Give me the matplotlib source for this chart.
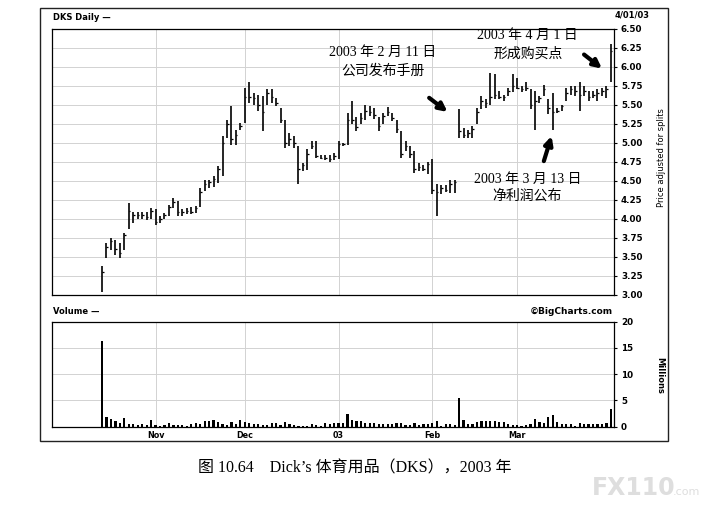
import matplotlib
matplotlib.use('Agg')
import matplotlib.pyplot as plt
from matplotlib.patches import Rectangle
import pandas as pd

# trading days, Oct 16 2002 (IPO) .. Apr 1 2003
holidays = ['2002-11-28', '2002-12-25', '2003-01-01', '2003-01-20', '2003-02-17']
days = pd.bdate_range('2002-10-16', '2003-04-01')
days = days[~days.isin(pd.to_datetime(holidays))]

high = [3.38, 3.68, 3.75, 3.72, 3.68, 3.81, 4.20, 4.09, 4.08, 4.08, 4.09, 4.14,
        4.12, 4.03, 4.07, 4.18, 4.27, 4.23, 4.12, 4.14, 4.15, 4.16, 4.40, 4.51,
        4.51, 4.56, 4.69, 5.08, 5.30, 5.48, 5.17, 5.26, 5.72, 5.80, 5.65, 5.63,
        5.61, 5.70, 5.70, 5.59, 5.46, 5.30, 5.13, 5.08, 4.95, 4.73, 4.91, 5.02,
        5.02, 4.84, 4.84, 4.83, 4.86, 5.02, 5.00, 5.39, 5.55, 5.33, 5.39, 5.50,
        5.48, 5.46, 5.33, 5.39, 5.47, 5.39, 5.30, 5.15, 5.02, 4.95, 4.89, 4.73,
        4.71, 4.75, 4.78, 4.45, 4.44, 4.44, 4.51, 4.51, 5.44, 5.19, 5.17, 5.22,
        5.46, 5.61, 5.57, 5.92, 5.90, 5.68, 5.63, 5.72, 5.90, 5.85, 5.74, 5.79,
        5.70, 5.68, 5.61, 5.76, 5.57, 5.65, 5.46, 5.50, 5.72, 5.74, 5.74, 5.79,
        5.74, 5.68, 5.68, 5.70, 5.72, 5.74, 6.29]
low = [3.03, 3.48, 3.58, 3.52, 3.48, 3.59, 3.86, 3.94, 3.99, 3.99, 3.98, 4.00,
       3.91, 3.94, 3.99, 4.03, 4.14, 4.03, 4.03, 4.06, 4.06, 4.07, 4.15, 4.36,
       4.40, 4.42, 4.47, 4.56, 5.06, 4.97, 4.97, 5.17, 5.26, 5.52, 5.50, 5.41,
       5.15, 5.50, 5.52, 5.48, 5.26, 4.93, 4.95, 4.93, 4.45, 4.62, 4.64, 4.91,
       4.80, 4.78, 4.77, 4.75, 4.77, 4.78, 4.95, 4.97, 5.25, 5.15, 5.24, 5.30,
       5.35, 5.31, 5.15, 5.24, 5.35, 5.28, 5.13, 4.80, 4.89, 4.80, 4.60, 4.62,
       4.62, 4.58, 4.32, 4.03, 4.32, 4.35, 4.34, 4.34, 5.06, 5.06, 5.06, 5.06,
       5.24, 5.44, 5.46, 5.50, 5.57, 5.57, 5.55, 5.61, 5.66, 5.70, 5.66, 5.68,
       5.44, 5.17, 5.52, 5.61, 5.37, 5.17, 5.39, 5.41, 5.55, 5.63, 5.61, 5.41,
       5.61, 5.55, 5.59, 5.55, 5.61, 5.59, 5.79]
close = [3.30, 3.62, 3.70, 3.60, 3.55, 3.78, 4.10, 4.05, 4.04, 4.05, 4.02, 4.10,
         3.95, 3.99, 4.05, 4.15, 4.22, 4.08, 4.08, 4.10, 4.08, 4.14, 4.35, 4.45,
         4.48, 4.52, 4.65, 5.00, 5.25, 5.05, 5.10, 5.22, 5.60, 5.60, 5.58, 5.50,
         5.40, 5.65, 5.60, 5.52, 5.30, 5.00, 5.05, 5.00, 4.65, 4.70, 4.85, 4.95,
         4.82, 4.80, 4.80, 4.78, 4.82, 4.98, 4.98, 5.30, 5.30, 5.20, 5.32, 5.42,
         5.40, 5.36, 5.22, 5.35, 5.40, 5.32, 5.18, 4.85, 4.95, 4.85, 4.65, 4.68,
         4.65, 4.72, 4.38, 4.35, 4.40, 4.38, 4.45, 4.48, 5.15, 5.10, 5.12, 5.18,
         5.40, 5.55, 5.52, 5.60, 5.62, 5.60, 5.60, 5.68, 5.75, 5.72, 5.70, 5.72,
         5.50, 5.55, 5.58, 5.70, 5.45, 5.40, 5.42, 5.48, 5.65, 5.70, 5.68, 5.62,
         5.68, 5.60, 5.62, 5.65, 5.68, 5.70, 6.20]
volume = [16.4, 1.9, 1.4, 1.0, 0.8, 1.6, 0.5, 0.5, 0.4, 0.6, 0.4, 1.3,
          0.4, 0.1, 0.3, 0.7, 0.4, 0.3, 0.3, 0.1, 0.6, 0.7, 0.5, 1.0,
          1.1, 1.2, 0.9, 0.6, 0.4, 0.9, 0.6, 1.3, 0.9, 0.7, 0.5, 0.5,
          0.4, 0.3, 0.8, 0.8, 0.4, 0.9, 0.5, 0.3, 0.1, 0.1, 0.1, 0.6,
          0.3, 0.1, 0.7, 0.5, 0.8, 0.7, 0.8, 2.4, 1.2, 1.1, 1.1, 0.8,
          0.8, 0.7, 0.6, 0.5, 0.5, 0.6, 0.8, 0.7, 0.4, 0.3, 0.8, 0.4,
          0.5, 0.6, 0.8, 1.0, 0.2, 0.6, 0.5, 0.4, 5.5, 1.3, 0.6, 0.5,
          0.9, 1.0, 1.0, 1.1, 1.1, 0.9, 0.9, 0.5, 0.3, 0.3, 0.1, 0.3,
          0.5, 1.4, 0.9, 0.8, 1.9, 2.3, 0.9, 0.6, 0.5, 0.6, 0.2, 0.8,
          0.6, 0.6, 0.6, 0.6, 0.6, 0.8, 3.4]
month_labels = ['Nov', 'Dec', '03', 'Feb', 'Mar']
price_ticks = [3.00, 3.25, 3.50, 3.75, 4.00, 4.25, 4.50, 4.75, 5.00, 5.25,
               5.50, 5.75, 6.00, 6.25, 6.50]
vol_ticks = [0, 5, 10, 15, 20]

W, H = 715, 507
def box(l, t, r, b):
    return [l / W, 1 - b / H, (r - l) / W, (b - t) / H]

x = list(range(len(days)))
month_pos = [i for i in range(1, len(days)) if days[i].month != days[i - 1].month]
month_pos = month_pos[:len(month_labels)]

plt.rcParams['font.family'] = ['DejaVu Sans']
fig = plt.figure(figsize=(7.15, 5.07), dpi=100)
fig.patch.set_facecolor('white')
fig.add_artist(Rectangle((40 / W, 1 - 441 / H), 628 / W, 433 / H, fill=False,
                         lw=1.0, ec='#222222', transform=fig.transFigure))

grid_c = '#d2d2d2'
ax = fig.add_axes(box(52, 28.5, 614, 294.5))
ax.set_xlim(-11.2, 114.7)
ax.set_ylim(3.0, 6.5)
for p in price_ticks[1:-1]:
    ax.axhline(p, color=grid_c, lw=0.7, zorder=0)
for m in month_pos:
    ax.axvline(m, color=grid_c, lw=0.7, zorder=0)
ax.vlines(x, low, high, color='black', lw=1.2)
ax.hlines(close, [i for i in x], [i + 0.35 for i in x], color='black', lw=0.9)
ax.yaxis.tick_right()
ax.set_yticks(price_ticks)
ax.set_yticklabels(['%.2f' % p for p in price_ticks], fontsize=6.3, fontweight='bold')
ax.tick_params(axis='y', length=2, pad=3)
ax.set_xticks([])
for s in ax.spines.values():
    s.set_linewidth(0.9)

cjk = ['Liberation Serif', 'Noto Sans CJK SC']
ax.text(62.9, 6.06, '2003 年 2 月 11 日\n公司发布手册', family=cjk, fontsize=10,
        ha='center', va='center', linespacing=1.5)
ax.text(95.4, 6.29, '2003 年 4 月 1 日\n形成购买点', family=cjk, fontsize=10,
        ha='center', va='center', linespacing=1.5)
ax.text(95.3, 4.40, '2003 年 3 月 13 日\n净利润公布', family=cjk, fontsize=10,
        ha='center', va='center', linespacing=1.3)
arrow = dict(arrowstyle='-|>', lw=3.0, color='black', mutation_scale=12)
ax.annotate('', xy=(77.9, 5.38), xytext=(72.8, 5.61), arrowprops=arrow)
ax.annotate('', xy=(100.9, 5.12), xytext=(98.8, 4.72), arrowprops=arrow)
ax.annotate('', xy=(112.5, 5.95), xytext=(107.5, 6.18), arrowprops=arrow)

fig.text(53 / W, 1 - 17 / H, 'DKS Daily —', fontsize=6, fontweight='bold', va='center')
fig.text(632 / W, 1 - 15 / H, '4/01/03', fontsize=6, fontweight='bold',
         va='center', ha='center')
fig.text(661 / W, 1 - 158 / H, 'Price adjusted for splits', fontsize=6,
         rotation=90, ha='center', va='center')

vax = fig.add_axes(box(52, 321.7, 614, 426.7))
vax.set_xlim(-11.2, 114.7)
vax.set_ylim(0, 20)
for v in vol_ticks[1:-1]:
    vax.axhline(v, color=grid_c, lw=0.7, zorder=0)
for m in month_pos:
    vax.axvline(m, color=grid_c, lw=0.7, zorder=0)
vax.bar(x, volume, width=0.5, color='black')
vax.yaxis.tick_right()
vax.set_yticks(vol_ticks)
vax.set_yticklabels([str(v) for v in vol_ticks], fontsize=6.3, fontweight='bold')
vax.tick_params(axis='y', length=2, pad=3)
vax.set_xticks(month_pos)
vax.set_xticklabels(month_labels, fontsize=5.8, fontweight='bold')
vax.tick_params(axis='x', length=0, pad=3)
for s in vax.spines.values():
    s.set_linewidth(0.9)

fig.text(53 / W, 1 - 311 / H, 'Volume —', fontsize=6, fontweight='bold', va='center')
fig.text(613 / W, 1 - 311 / H, '©BigCharts.com', fontsize=6.5, fontweight='bold',
         va='center', ha='right')
fig.text(660 / W, 1 - 375 / H, 'Millions', fontsize=6, fontweight='bold',
         rotation=270, ha='center', va='center')

fig.text(355 / W, 1 - 468 / H, '图 10.64\u3000Dick\u2019s 体育用品（DKS），2003 年',
         family=cjk, fontsize=11.5, ha='center', va='center')
fig.text(592 / W, 1 - 488 / H, 'FX110', fontsize=17, fontweight='bold',
         color='#dedede', va='center')
fig.text(673 / W, 1 - 492 / H, '.com', fontsize=8, color='#dedede', va='center')

fig.savefig('out.png', dpi=100)
